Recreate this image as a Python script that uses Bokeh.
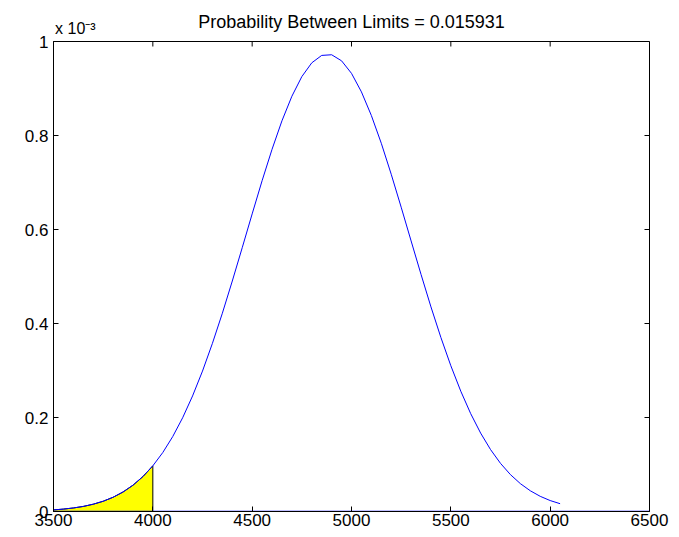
import math
from bokeh.plotting import figure
from bokeh.models import Range1d, FixedTicker, LinearAxis
from bokeh.embed import file_html
from bokeh.resources import INLINE

# Normal pdf curve values (y in units of 1e-3)
x_vals = [3500, 3550, 3600, 3650, 3700, 3750, 3800, 3850, 3900, 3950,
          4000, 4050, 4100, 4150, 4200, 4250, 4300, 4350, 4400, 4450,
          4500, 4550, 4600, 4650, 4700, 4750, 4800, 4850, 4900, 4950,
          5000, 5050, 5100, 5150, 5200, 5250, 5300, 5350, 5400, 5450,
          5500, 5550, 5600, 5650, 5700, 5750, 5800, 5850, 5900, 5950,
          6000, 6050]
y_vals = [0.0034, 0.0051, 0.0075, 0.0108, 0.0155, 0.0218, 0.0303, 0.0415, 0.0559, 0.0743,
          0.0972, 0.1254, 0.1593, 0.1994, 0.2459, 0.2988, 0.3578, 0.4219, 0.4904, 0.5613,
          0.6332, 0.7038, 0.7706, 0.8313, 0.8836, 0.9253, 0.9546, 0.9704, 0.9718, 0.9589,
          0.9322, 0.8928, 0.8425, 0.7834, 0.7175, 0.6475, 0.5757, 0.5044, 0.4353, 0.3702,
          0.3101, 0.2560, 0.2082, 0.1668, 0.1317, 0.1024, 0.0785, 0.0593, 0.0441, 0.0323,
          0.0233, 0.0166]
lower_limit = 3500
upper_limit = 4000
baseline_x = [3500, 6500]
baseline_y = [0, 0]

x_ticks = [3500, 4000, 4500, 5000, 5500, 6000, 6500]
x_tick_labels = ["3500", "4000", "4500", "5000", "5500", "6000", "6500"]
y_ticks = [0, 0.2, 0.4, 0.6, 0.8, 1.0]
y_tick_labels = ["0", "0.2", "0.4", "0.6", "0.8", "1"]
title_text = "Probability Between Limits = 0.015931"
exponent_text = "x 10\u207b\u00b3"

FONT = "Liberation Sans"
FS = "17px"
X_MIN, X_MAX = 3500, 6500
Y_MIN, Y_MAX = 0, 1
# x position (data units) at which the exponent note is centred
exp_anchor = 3610

p = figure(width=675, height=533, output_backend="svg", toolbar_location=None,
           x_range=Range1d(X_MIN, X_MAX), y_range=Range1d(Y_MIN, Y_MAX),
           min_border_left=53, min_border_right=26, min_border_top=41, min_border_bottom=22)
p.title.text = ""

p.grid.visible = False
p.background_fill_color = "white"
p.border_fill_color = "white"
p.outline_line_color = "#000000"
p.outline_line_width = 1

bottom_ax = p.below[0]
left_ax = p.left[0]
for ax, ticks, labels in ((bottom_ax, x_ticks, x_tick_labels), (left_ax, y_ticks, y_tick_labels)):
    ax.ticker = FixedTicker(ticks=ticks)
    ax.minor_tick_line_color = None
    ax.major_tick_in = 5
    ax.major_tick_out = 0
    ax.axis_line_color = "#000000"
    ax.major_tick_line_color = "#000000"
    ax.major_label_text_font = FONT
    ax.major_label_text_color = "#000000"
    ax.major_label_text_font_size = FS
    ax.major_label_standoff = 2
    ax.major_label_overrides = {t: l for t, l in zip(ticks, labels)}
left_ax.major_label_standoff = 5

# top axis carries the exponent note (its only tick label) and the title (its axis label)
top_ax = LinearAxis(ticker=FixedTicker(ticks=[exp_anchor]),
                    major_label_overrides={exp_anchor: exponent_text})
top_ax.axis_line_color = None
top_ax.major_tick_line_color = None
top_ax.minor_tick_line_color = None
top_ax.major_tick_out = 0
top_ax.major_tick_in = 0
top_ax.major_label_standoff = 5
top_ax.major_label_text_font = FONT
top_ax.major_label_text_font_size = "16px"
top_ax.major_label_text_color = "#000000"
top_ax.axis_label = title_text
top_ax.axis_label_text_font = FONT
top_ax.axis_label_text_font_size = "18px"
top_ax.axis_label_text_font_style = "normal"
top_ax.axis_label_text_color = "#000000"
top_ax.axis_label_standoff = -15
p.add_layout(top_ax, "above")

# shaded area between limits
px = [x for x in x_vals if lower_limit <= x <= upper_limit]
py = [y for x, y in zip(x_vals, y_vals) if lower_limit <= x <= upper_limit]
p.patch(px + [upper_limit, lower_limit], py + [0, 0],
        fill_color="#ffff00", line_color="#000000", line_width=1)

p.line(x_vals, y_vals, line_color="#0000ff", line_width=1)
p.line(baseline_x, baseline_y, line_color="#0000ff", line_width=1.5)

# inward ticks on top and right edges (box style)
p.ray(x=x_ticks, y=[Y_MAX] * len(x_ticks), length=5, length_units="screen",
      angle=-math.pi / 2, line_color="#000000", line_width=1)
p.ray(x=[X_MAX] * len(y_ticks), y=y_ticks, length=5, length_units="screen",
      angle=math.pi, line_color="#000000", line_width=1)

open("out.html", "w").write(file_html(p, INLINE))
